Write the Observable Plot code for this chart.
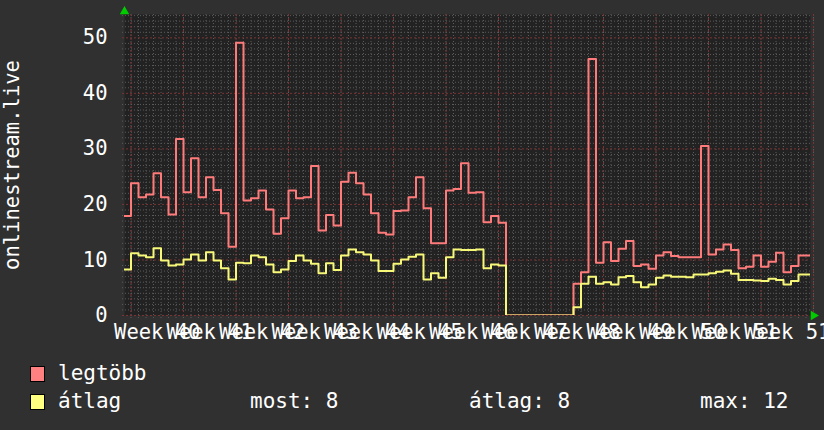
<!DOCTYPE html>
<html>
<head>
<meta charset="utf-8">
<script src="https://cdn.jsdelivr.net/npm/d3@7"></script>
<script src="https://cdn.jsdelivr.net/npm/@observablehq/plot@0.6"></script>
<style>
  html, body { margin: 0; padding: 0; background: #303030; }
  #wrap { position: relative; width: 824px; height: 430px; overflow: hidden; background: #303030; font-family: "DejaVu Sans Mono", monospace; color: #fff; }
  #legend { position: absolute; left: 0; top: 350px; width: 824px; height: 80px; }
  .sw { position: absolute; left: 30px; width: 13px; height: 14px; border: 1px solid #000; }
  .lt { position: absolute; font-size: 21px; line-height: 21px; white-space: pre; }
</style>
</head>
<body>
<div id="wrap"><div id="chart"></div><div id="legend"></div></div>
<script>
// ---- data (daily values, first entry = day before week 40 starts) ----
const firstDay = -1;
const legtobb = [17.9, 23.8, 21.3, 21.8, 25.6, 21.3, 18.2, 31.8, 22.2, 28.3,
  21.3, 24.9, 22.6, 18.4, 12.4, 49.1, 20.7, 21.1, 22.5, 19.1,
  14.7, 17.5, 22.5, 21.1, 21.3, 26.9, 15.3, 18.1, 16.2, 24.1,
  25.7, 23.8, 21.8, 18.4, 14.9, 14.6, 18.8, 18.9, 21.3, 24.9,
  19.3, 13.0, 13.0, 22.5, 22.8, 27.4, 22.1, 22.2, 16.8, 17.9,
  16.7, 0, 0, 0, 0, 0, 0, 0, 0, 0,
  5.7, 7.8, 46.2, 9.5, 13.2, 9.8, 12.0, 13.4, 8.9, 9.2,
  8.4, 10.8, 11.4, 10.7, 10.5, 10.5, 10.5, 30.5, 11.0, 11.9,
  12.8, 11.8, 8.5, 8.8, 10.8, 8.8, 9.7, 11.3, 7.8, 8.9,
  10.8, 10.8];
const atlag = [8.3, 11.2, 10.8, 10.5, 12.1, 9.9, 9.0, 9.2, 10.1, 11.0,
  9.9, 11.4, 9.9, 8.5, 6.5, 9.5, 9.4, 10.8, 10.5, 9.2,
  7.8, 8.3, 9.8, 10.8, 9.9, 9.3, 7.6, 9.4, 8.2, 10.8,
  11.9, 11.4, 11.0, 9.9, 8.0, 8.0, 9.3, 10.1, 10.6, 11.0,
  6.5, 7.6, 6.8, 10.5, 11.9, 11.8, 11.8, 11.9, 8.5, 9.2,
  9.0, 0, 0, 0, 0, 0, 0, 0, 0, 0,
  1.5, 5.7, 7.0, 5.7, 6.0, 5.6, 6.9, 7.1, 6.0, 5.1,
  5.6, 6.8, 7.2, 7.0, 7.0, 6.9, 7.4, 7.4, 7.6, 7.9,
  8.1, 7.5, 6.4, 6.4, 6.3, 6.2, 6.6, 6.4, 5.6, 6.2,
  7.4, 7.4];
const weekLabels = ["Week 40", "Week 41", "Week 42", "Week 43", "Week 44", "Week 45",
  "Week 46", "Week 47", "Week 48", "Week 49", "Week 50", "Week 51", "Week 51"];
const yTicks = [0, 10, 20, 30, 40, 50];
const yTitle = "onlinestream.live";
const seriesNames = ["legtöbb", "átlag"];
const seriesColors = ["#ff7a7a", "#f8f878"];
const swatchColors = ["#ff8080", "#ffff80"];
const statLabels = ["most: 8", "átlag: 8", "max: 12"];

// ---- build ----
function toPoints(vals) {
  const pts = vals.map((v, i) => ({d: firstDay + i, v}));
  pts.push({d: firstDay + vals.length, v: vals[vals.length - 1]});
  return pts;
}
const redPts = toPoints(legtobb);
const yelPts = toPoints(atlag);
const nDays = firstDay + legtobb.length;
const dayLines = d3.range(0, nDays + 1);
const weekLines = d3.range(0, nDays + 1, 7);
const minorY = d3.range(1, 55).filter(v => v % 10 !== 0);
const weekMids = weekLabels.map((_, j) => 3.5 + 7 * j);

const chart = Plot.plot({
  width: 824,
  height: 350,
  marginLeft: 124,
  marginRight: 14,
  marginTop: 14,
  marginBottom: 35,
  style: {background: "#303030", color: "#fff", fontFamily: "DejaVu Sans Mono", fontSize: "20px"},
  x: {domain: [-0.87, 90.6]},
  y: {domain: [0, 54.2]},
  marks: [
    Plot.frame({fill: "#222222", stroke: null}),
    Plot.ruleY(minorY, {stroke: "#5c5c5c", strokeDasharray: "1,2", strokeWidth: 1, insetLeft: -2}),
    Plot.ruleX(dayLines, {stroke: "#5c5c5c", strokeDasharray: "1,2", strokeWidth: 1, insetBottom: -3}),
    Plot.ruleY(yTicks, {stroke: "#7a3434", strokeDasharray: "2,2", strokeWidth: 1, insetLeft: -2}),
    Plot.ruleX(weekLines, {stroke: "#7a3434", strokeDasharray: "2,2", strokeWidth: 1, insetBottom: -3}),
    Plot.line(redPts, {x: "d", y: "v", curve: "step-after", stroke: seriesColors[0], strokeWidth: 2, clip: true}),
    Plot.line(yelPts, {x: "d", y: "v", curve: "step-after", stroke: seriesColors[1], strokeWidth: 2, clip: true}),
    Plot.axisY({ticks: yTicks, tickSize: 0, tickPadding: 17, fontSize: 20.5, label: null, fill: "#fff"}),
    Plot.axisX({ticks: weekMids, tickFormat: (d, i) => weekLabels[i], tickSize: 0, tickPadding: 9, fontSize: 20.5, label: null, fill: "#fff"}),
    Plot.text([yTitle], {text: d => d, frameAnchor: "left", textAnchor: "middle", rotate: -90, dx: -112, fill: "#fff", fontSize: 20.5}),
    Plot.dot([0], {frameAnchor: "top-left", symbol: "triangle", r: 3.5, fill: "#00cc00", stroke: null, dy: -3}),
    Plot.dot([0], {frameAnchor: "bottom-right", symbol: "triangle", r: 3.5, fill: "#00cc00", stroke: null, rotate: 90, dx: 3})
  ]
});
document.getElementById("chart").appendChild(chart);

// ---- legend ----
const legend = document.getElementById("legend");
const rowTops = [16, 44];
seriesNames.forEach((name, i) => {
  const sw = document.createElement("div");
  sw.className = "sw";
  sw.style.top = rowTops[i] + "px";
  sw.style.background = swatchColors[i];
  legend.appendChild(sw);
  const t = document.createElement("div");
  t.className = "lt";
  t.style.left = "58px";
  t.style.top = (rowTops[i] - 3) + "px";
  t.textContent = name;
  legend.appendChild(t);
});
const statLefts = [250, 469, 700];
statLabels.forEach((s, i) => {
  const t = document.createElement("div");
  t.className = "lt";
  t.style.left = statLefts[i] + "px";
  t.style.top = (rowTops[1] - 3) + "px";
  t.textContent = s;
  legend.appendChild(t);
});
</script>
</body>
</html>
